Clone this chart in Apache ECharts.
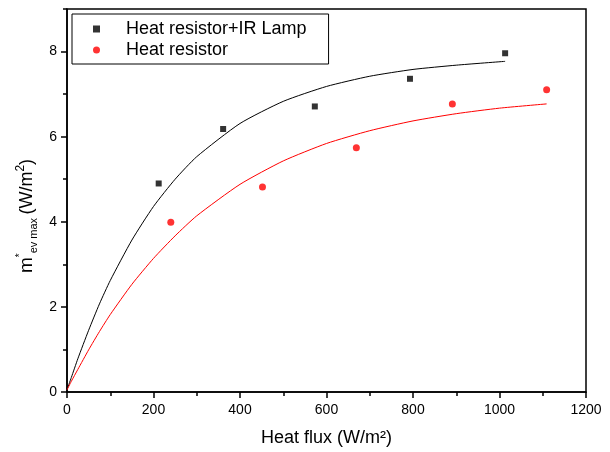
<!DOCTYPE html>
<html>
<head>
<meta charset="utf-8">
<script src="https://cdn.jsdelivr.net/npm/echarts@6/dist/echarts.min.js"></script>
<style>html,body{margin:0;padding:0;background:#fff}#c{width:610px;height:452px}</style>
</head>
<body>
<div id="c"></div>
<script>
// Measured points
const lampX = [212, 361, 573, 793, 1013];
const lampY = [4.90, 6.18, 6.71, 7.36, 7.96];
const resX = [240, 452, 669, 891, 1109];
const resY = [3.99, 4.82, 5.74, 6.77, 7.10];
// Fitted curves
const lampFitX = [0, 10, 25, 50, 75, 100, 150, 200, 250, 300, 400, 500, 600, 700, 800, 900, 1013];
const lampFitY = [0.05, 0.34, 0.78, 1.45, 2.07, 2.62, 3.57, 4.36, 5.00, 5.53, 6.31, 6.83, 7.18, 7.42, 7.58, 7.68, 7.77];
const resFitX = [0, 10, 25, 50, 75, 100, 150, 200, 250, 300, 400, 500, 600, 700, 800, 900, 1000, 1109];
const resFitY = [0.05, 0.25, 0.53, 0.99, 1.42, 1.82, 2.53, 3.14, 3.67, 4.14, 4.88, 5.43, 5.84, 6.14, 6.37, 6.54, 6.67, 6.77];
const seriesNames = ['Heat resistor+IR Lamp', 'Heat resistor'];

const zip = (a, b) => a.map((v, i) => [v, b[i]]);
const FONT = 'Liberation Sans, Arial, sans-serif';
const LW = 1.5;
const tickBase = (len) => ({show: true, inside: false, length: len, lineStyle: {color: '#000', width: 1.5}});

const chart = echarts.init(document.getElementById('c'), null, {renderer: 'canvas'});
chart.setOption({
  animation: false,
  backgroundColor: '#fff',
  grid: {left: 67, right: 24, top: 9, bottom: 60, outerBoundsMode: 'none', containLabel: false,
         show: true, borderColor: '#000', borderWidth: LW, backgroundColor: 'transparent'},
  legend: {
    left: 72, top: 14, orient: 'vertical',
    data: [{name: seriesNames[0], icon: 'rect'}, {name: seriesNames[1], icon: 'circle'}],
    borderColor: '#000', borderWidth: 1, padding: [6, 22, 5, 21],
    itemWidth: 7, itemHeight: 7, itemGap: 3,
    textStyle: {fontFamily: FONT, fontSize: 18, color: '#000', padding: [0, 0, 0, 21]}
  },
  xAxis: [{
    type: 'value', min: 0, max: 1200, interval: 200,
    name: 'Heat flux (W/m²)', nameLocation: 'middle', nameGap: 37,
    nameTextStyle: {fontFamily: FONT, fontSize: 18, color: '#000'},
    axisLine: {show: true, onZero: false, lineStyle: {color: '#000', width: LW}},
    axisTick: tickBase(6),
    splitLine: {show: false},
    axisLabel: {show: true, fontFamily: FONT, fontSize: 14, color: '#000', margin: 11, formatter: (v) => String(v)}
  }, {
    type: 'value', min: 0, max: 1200, interval: 100, position: 'bottom',
    axisLine: {show: false, onZero: false},
    axisTick: tickBase(4),
    splitLine: {show: false},
    axisLabel: {show: false}
  }],
  yAxis: [{
    type: 'value', min: 0, max: 9, interval: 2,
    axisLine: {show: true, onZero: false, lineStyle: {color: '#000', width: LW}},
    axisTick: tickBase(6),
    splitLine: {show: false},
    axisLabel: {show: true, fontFamily: FONT, fontSize: 14, color: '#000', margin: 10, showMaxLabel: false,
                formatter: (v) => (v % 2 === 0 ? String(v) : '')}
  }, {
    type: 'value', min: 0, max: 9, interval: 1, position: 'left',
    axisLine: {show: false, onZero: false},
    axisTick: tickBase(4),
    splitLine: {show: false},
    axisLabel: {show: false}
  }],
  graphic: [{
    type: 'text', x: 27, y: 216, rotation: Math.PI / 2,
    style: {
      text: '{m|m}{st|*}{sub|ev max} {u|(W/m}{sup|2}{u|)}',
      align: 'center', verticalAlign: 'middle', fill: '#000',
      rich: {
        m: {fontFamily: FONT, fontSize: 19, lineHeight: 24, verticalAlign: 'middle', fill: '#000'},
        st: {fontFamily: FONT, fontSize: 10, lineHeight: 10, verticalAlign: 'top', fill: '#000'},
        sub: {fontFamily: FONT, fontSize: 11, lineHeight: 11, verticalAlign: 'bottom', fill: '#000'},
        u: {fontFamily: FONT, fontSize: 18, lineHeight: 24, verticalAlign: 'middle', fill: '#000'},
        sup: {fontFamily: FONT, fontSize: 12, lineHeight: 12, verticalAlign: 'top', fill: '#000'}
      }
    }
  }],
  series: [
    {name: seriesNames[0], type: 'scatter', xAxisIndex: 0, yAxisIndex: 0, symbol: 'rect', symbolSize: 6, itemStyle: {color: '#000'}, data: zip(lampX, lampY), z: 3},
    {name: seriesNames[1], type: 'scatter', xAxisIndex: 0, yAxisIndex: 0, symbol: 'circle', symbolSize: 7, itemStyle: {color: '#ff0000'}, data: zip(resX, resY), z: 3},
    {name: 'fit1', type: 'line', xAxisIndex: 0, yAxisIndex: 0, showSymbol: false, symbol: 'none', smooth: 0.2, lineStyle: {color: '#000', width: 1}, data: zip(lampFitX, lampFitY), z: 2},
    {name: 'fit2', type: 'line', xAxisIndex: 0, yAxisIndex: 0, showSymbol: false, symbol: 'none', smooth: 0.2, lineStyle: {color: '#ff0000', width: 1}, data: zip(resFitX, resFitY), z: 2}
  ]
});
</script>
</body>
</html>
